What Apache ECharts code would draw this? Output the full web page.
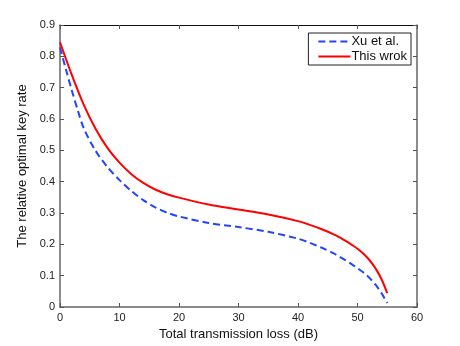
<!DOCTYPE html>
<html>
<head>
<meta charset="utf-8">
<script src="https://cdn.jsdelivr.net/npm/echarts@6/dist/echarts.min.js"></script>
<style>
  html, body { margin: 0; padding: 0; background: #fff; }
  #chart { width: 460px; height: 346px; }
</style>
</head>
<body>
<div id="chart"></div>
<script>
var lossRed  = [0, 2, 4, 6, 8, 10, 12, 14, 16, 18, 20, 25, 30, 35, 40, 42, 44, 46, 47, 48, 49, 50, 51, 52, 53, 54, 55];
var rateRed  = [0.845, 0.740, 0.645, 0.568, 0.507, 0.461, 0.424, 0.396, 0.375, 0.360, 0.349, 0.327, 0.311, 0.295, 0.274, 0.262, 0.248, 0.232, 0.222, 0.211, 0.199, 0.186, 0.170, 0.150, 0.124, 0.090, 0.044];
var lossBlue = [0, 1, 2, 3, 4, 6, 8, 10, 12, 14, 16, 18, 20, 25, 30, 35, 40, 42, 44, 46, 47, 48, 49, 50, 51, 52, 53, 54, 55];
var rateBlue = [0.828, 0.758, 0.690, 0.627, 0.570, 0.498, 0.446, 0.405, 0.370, 0.341, 0.318, 0.301, 0.289, 0.268, 0.255, 0.240, 0.218, 0.205, 0.189, 0.171, 0.160, 0.149, 0.137, 0.124, 0.110, 0.093, 0.072, 0.045, 0.013];
var xTicks = [0, 10, 20, 30, 40, 50, 60];
var yTicks = [0, 0.1, 0.2, 0.3, 0.4, 0.5, 0.6, 0.7, 0.8, 0.9];

function pairs(xs, ys) {
  var out = [];
  for (var i = 0; i < xs.length; i++) out.push([xs[i], ys[i]]);
  return out;
}

var font = '"Liberation Sans", Arial, sans-serif';
var chart = echarts.init(document.getElementById('chart'));

var axisBase = {
  type: 'value',
  axisLine: { show: true, onZero: false, lineStyle: { color: '#666', width: 1.5 } },
  axisTick: { show: true, inside: true, length: 4, lineStyle: { color: '#555', width: 1 } },
  splitLine: { show: false },
  axisLabel: { color: '#222', fontSize: 11, fontFamily: font }
};

var options = {
  animation: false,
  backgroundColor: '#fff',
  grid: { left: 60, top: 25, right: 43, bottom: 39 },
  legend: {
    right: 49,
    top: 33,
    orient: 'vertical',
    backgroundColor: '#fff',
    borderColor: '#222',
    borderWidth: 1,
    borderRadius: 0,
    padding: [2, 4, 2, 9],
    itemGap: 2,
    itemWidth: 32,
    itemHeight: 14,
    itemStyle: { opacity: 0 },
    textStyle: { fontSize: 13, fontFamily: font, color: '#111', padding: [0, 0, 0, -4] },
    data: ['Xu et al.', 'This wrok']
  },
  xAxis: [
    Object.assign({}, axisBase, {
      min: xTicks[0], max: xTicks[xTicks.length - 1], interval: 10,
      position: 'bottom',
      name: 'Total transmission loss (dB)',
      nameLocation: 'middle',
      nameGap: 15,
      nameTextStyle: { fontSize: 13, fontFamily: font, color: '#111' },
      axisLabel: Object.assign({}, axisBase.axisLabel, { margin: 5 })
    }),
    Object.assign({}, axisBase, {
      min: xTicks[0], max: xTicks[xTicks.length - 1], interval: 10,
      position: 'top',
      axisLine: { show: true, onZero: false, lineStyle: { color: '#111', width: 1 } },
      axisLabel: { show: false }
    })
  ],
  yAxis: [
    Object.assign({}, axisBase, {
      min: yTicks[0], max: yTicks[yTicks.length - 1], interval: 0.1,
      position: 'left',
      name: 'The relative optimal key rate',
      nameLocation: 'middle',
      nameGap: 17,
      nameTextStyle: { fontSize: 13, fontFamily: font, color: '#111' },
      axisLabel: Object.assign({}, axisBase.axisLabel, {
        margin: 5,
        formatter: function (v) { return v === 0 ? '0' : v.toFixed(1); }
      })
    }),
    Object.assign({}, axisBase, {
      min: yTicks[0], max: yTicks[yTicks.length - 1], interval: 0.1,
      position: 'right',
      axisLabel: { show: false }
    })
  ],
  series: [
    {
      name: 'Xu et al.',
      type: 'line',
      smooth: 0.3,
      symbol: 'none',
      lineStyle: { color: '#2244ff', width: 2, type: [7, 4] },
      itemStyle: { color: '#2244ff' },
      data: pairs(lossBlue, rateBlue)
    },
    {
      name: 'This wrok',
      type: 'line',
      smooth: 0.3,
      symbol: 'none',
      lineStyle: { color: '#ff0000', width: 2 },
      itemStyle: { color: '#ff0000' },
      data: pairs(lossRed, rateRed)
    }
  ]
};

chart.setOption(options);
</script>
</body>
</html>
